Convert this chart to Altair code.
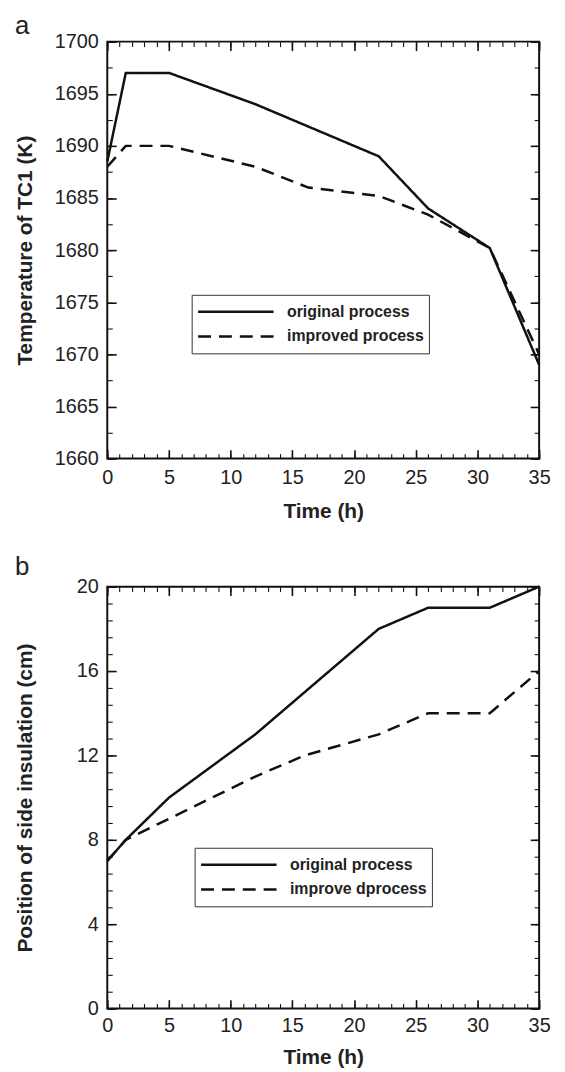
import altair as alt
import pandas as pd

FONT = "Liberation Sans"
INK = "#111111"
TEXT = "#222222"

# ---------------- Panel a: temperature of TC1 ----------------
a_time_original = [0, 1.5, 5, 12, 22, 26, 31, 35]
a_temp_original = [1688.5, 1697, 1697, 1694, 1689, 1684, 1680.2, 1669]
a_time_improved = [0, 1.5, 5, 12, 16.3, 22, 26, 31, 35]
a_temp_improved = [1688, 1690, 1690, 1688, 1686, 1685.2, 1683.4, 1680.2, 1670]
a_series = ["original process", "improved process"]
a_y_major = [1660, 1665, 1670, 1675, 1680, 1685, 1690, 1695, 1700]
a_y_minor = [1660 + 2.5 * i for i in range(17)]

# ---------------- Panel b: position of side insulation ----------------
b_time_original = [0, 1.5, 5, 12, 22, 26, 31, 35]
b_pos_original = [7, 8, 10, 13, 18, 19, 19, 20]
b_time_improved = [0, 1.5, 5, 12, 16, 22, 26, 31, 35]
b_pos_improved = [7, 8, 9, 11, 12, 13, 14, 14, 16]
b_series = ["original process", "improve dprocess"]
b_y_major = [0, 4, 8, 12, 16, 20]
b_y_minor = [round(0.8 * i, 1) for i in range(26)]

x_major = [0, 5, 10, 15, 20, 25, 30, 35]
x_minor = list(range(0, 36))

W = 435


def make_df(t1, v1, t2, v2, names):
    rows = [{"time": t, "value": v, "process": names[0]} for t, v in zip(t1, v1)]
    rows += [{"time": t, "value": v, "process": names[1]} for t, v in zip(t2, v2)]
    return pd.DataFrame(rows)


def tick_axis(orient, values, length, width):
    return alt.Axis(
        orient=orient, values=values, labels=False, ticks=False, domain=False,
        title=None, grid=True, gridDash=[length, 3000], gridColor=INK,
        gridWidth=width, gridOpacity=1, minExtent=0, maxExtent=0,
    )


def panel(df, names, ydom, ymaj, ymin, ytitle, letter, lx, ly, h, toff, lpad, tpad):
    xs = alt.Scale(domain=[0, 35], nice=False, zero=False)
    ys = alt.Scale(domain=ydom, nice=False, zero=False)
    base = alt.Chart(df)

    main_x = alt.Axis(
        orient="bottom", values=x_major, title="Time (h)", domain=False,
        ticks=False, grid=True, gridDash=[9, 3000], gridColor=INK,
        gridWidth=1.6, gridOpacity=1, labelFont=FONT, labelFontSize=20,
        labelColor=TEXT, labelPadding=lpad, labelFlush=False, labelOverlap=False,
        format="d", titleFont=FONT, titleFontSize=21, titleFontWeight="bold",
        titleColor=TEXT, titlePadding=tpad, minExtent=0,
    )
    main_y = alt.Axis(
        orient="left", values=ymaj, title=ytitle, domain=False, ticks=False,
        grid=True, gridDash=[9, 3000], gridColor=INK, gridWidth=1.6,
        gridOpacity=1, labelFont=FONT, labelFontSize=20, labelColor=TEXT,
        labelPadding=9, labelFlush=False, labelOverlap=False, format="d",
        titleFont=FONT, titleFontSize=21, titleFontWeight="bold",
        titleColor=TEXT, titleX=-76, titleY=h / 2, titleBaseline="alphabetic",
        titleAlign="center", titleAngle=270, minExtent=0,
    )

    lines = base.mark_line(color=INK, strokeWidth=2.5).encode(
        x=alt.X("time:Q", scale=xs, axis=main_x),
        y=alt.Y("value:Q", scale=ys, axis=main_y),
        strokeDash=alt.StrokeDash(
            "process:N",
            scale=alt.Scale(domain=names, range=[[1, 0], [13, 8]]),
            legend=alt.Legend(
                orient="none", legendX=lx, legendY=ly, title=None,
                symbolType="stroke", symbolSize=5776, symbolStrokeWidth=2.5,
                symbolStrokeColor=INK, clipHeight=24, rowPadding=1,
                labelFont=FONT, labelFontSize=16, labelFontWeight="bold",
                labelColor=TEXT, labelOffset=12, labelLimit=400, padding=5,
                strokeColor="#333333", fillColor="white",
            ),
        ),
    )
    ghosts = []
    for xo, yo, vx, vy, ln, wd in [
        ("top", "right", x_major, ymaj, 9, 1.6),
        ("bottom", "left", x_minor, ymin, 5, 1.1),
        ("top", "right", x_minor, ymin, 5, 1.1),
    ]:
        ghosts.append(
            base.mark_line(opacity=0).encode(
                x=alt.X("time:Q", scale=xs, axis=tick_axis(xo, vx, ln, wd)),
                y=alt.Y("value:Q", scale=ys, axis=tick_axis(yo, vy, ln, wd)),
                detail="process:N",
            )
        )
    return alt.layer(lines, *ghosts).resolve_axis(
        x="independent", y="independent"
    ).properties(
        width=W, height=h,
        title=alt.TitleParams(
            letter, anchor="start", frame="bounds", font=FONT, fontSize=26,
            fontWeight="normal", color=TEXT, baseline="alphabetic", offset=toff,
        ),
    )


df_a = make_df(a_time_original, a_temp_original, a_time_improved, a_temp_improved, a_series)
df_b = make_df(b_time_original, b_pos_original, b_time_improved, b_pos_improved, b_series)

top = panel(df_a, a_series, [1660, 1700], a_y_major, a_y_minor,
            "Temperature of TC1 (K)", "a", 85, 255, 420, -28, 9, 13)
bottom = panel(df_b, b_series, [0, 20], b_y_major, b_y_minor,
               "Position of side insulation (cm)", "b", 88, 263, 425, -24, 7, 11)

chart = alt.vconcat(top, bottom, spacing=31).resolve_scale(
    strokeDash="independent"
).resolve_legend(strokeDash="independent").properties(
    padding={"left": 5, "top": 0, "right": 5, "bottom": 0},
    background="white",
).configure_view(stroke=INK, strokeWidth=2)

chart.save("out.html", embed_options={"renderer": "svg", "actions": False})
